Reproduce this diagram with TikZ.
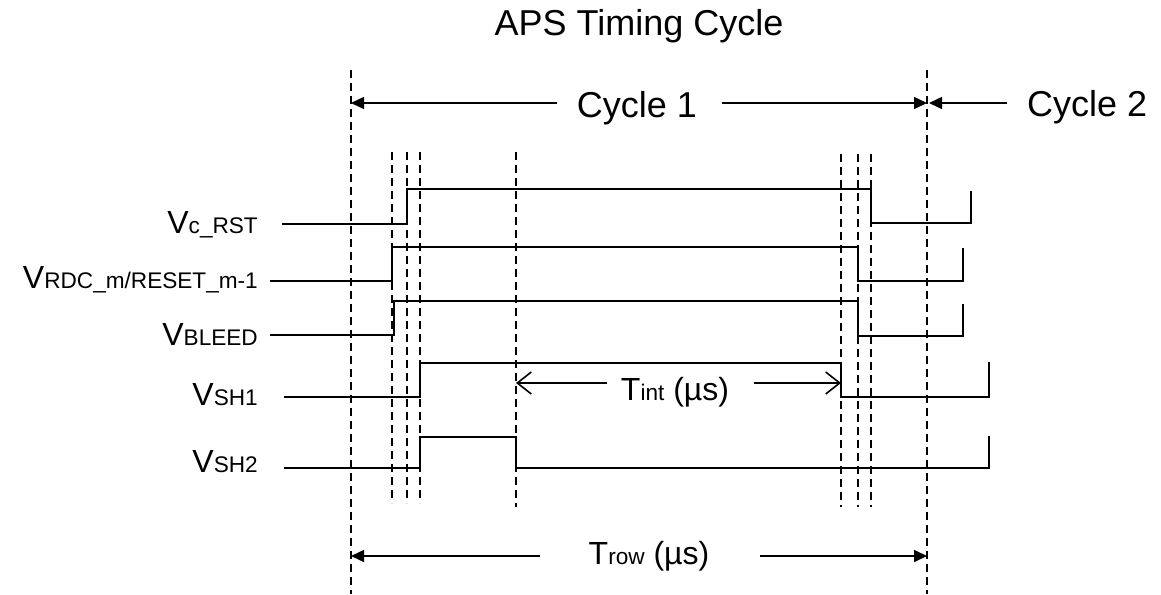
\documentclass[tikz,border=0pt]{standalone}
\usepackage{fontspec}
\setmainfont{Liberation Sans}
\usetikzlibrary{arrows.meta}
\newcommand\fsTitle{\fontsize{36}{40}\selectfont}
\newcommand\fsV{\fontsize{32}{36}\selectfont}
\newcommand\fsSub{\fontsize{22.6}{26}\selectfont}
\begin{document}
\begin{tikzpicture}[x=1pt,y=-1pt,
  sig/.style={line width=1.7pt, line join=miter, line cap=rect},
  guide/.style={line width=1.4pt, dash pattern=on 8pt off 5pt},
  span/.style={line width=1.6pt, -{Triangle[length=13pt,width=12pt]}},
  tint/.style={line width=1.6pt, -{Straight Barb[length=14pt,width=22pt,line width=1.6pt]}},
  lbl/.style={inner sep=0pt, anchor=base east},
  txt/.style={inner sep=0pt}]
\useasboundingbox (0,0) rectangle (1161,594);

% guide lines
\foreach \n/\x/\t/\b in {A/351/70/594, B/927/70/594,
    C/392/152/503, D/407/152/503, E/420/152/503, F/516/152/507,
    G/841/154/507, H/858/154/507, I/871/154/507} {
  \coordinate (g\n t) at (\x,\t);
  \coordinate (g\n b) at (\x,\b);
  \draw[guide] (g\n t) -- (g\n b);
}

% title
\node[txt, anchor=base] (title) at (639,36) {\fsTitle APS Timing Cycle};

% cycle arrows
\node[txt, anchor=base] (cyc1) at (637,117) {\fsTitle Cycle 1};
\node[txt, anchor=base west] (cyc2) at (1027,116) {\fsTitle Cycle 2};
\coordinate (c1l) at (557,103);
\coordinate (c1r) at (722,103);
\coordinate (c2s) at (1007,103);
\coordinate (gAc) at (351,103);
\coordinate (gBc) at (927,103);
\coordinate (gBc2) at (929,103);
\draw[span] (c1l) -- (gAc);
\draw[span] (c1r) -- (gBc);
\draw[span] (c2s) -- (gBc2);

% labels
\node[lbl] (lrst) at (258,233) {\fsV V\fsSub c\_RST};
\node[lbl] (lrdc) at (258,288) {\fsV V\fsSub RDC\_m/RESET\_m-1};
\node[lbl] (lbleed) at (258,345) {\fsV V\fsSub BLEED};
\node[lbl] (lsh1) at (258,405) {\fsV V\fsSub SH1};
\node[lbl] (lsh2) at (258,472) {\fsV V\fsSub SH2};

% waveforms
\draw[sig] (283,224) -- (407,224) -- (407,189) -- (871,189) -- (871,223) -- (971,223) -- (971,192);
\draw[sig] (271,281) -- (392,281) -- (392,247) -- (858,247) -- (858,281) -- (963,281) -- (963,249);
\draw[sig] (271,335) -- (394,335) -- (394,301) -- (858,301) -- (858,336) -- (963,336) -- (963,305);
\draw[sig] (285,397) -- (420,397) -- (420,363) -- (841,363) -- (841,397) -- (989,397) -- (989,363);
\draw[sig] (285,468) -- (420,468) -- (420,437) -- (516,437) -- (516,468) -- (989,468) -- (989,437);

% Tint
\node[txt, anchor=base] (tint) at (675,400) {\fsV T\fsSub int\fsV{} (µs)};
\coordinate (til) at (607,383);
\coordinate (tir) at (754,383);
\coordinate (tFl) at (516,383);
\coordinate (tGr) at (841,383);
\draw[tint] (til) -- (tFl);
\draw[tint] (tir) -- (tGr);

% Trow
\node[txt, anchor=base] (trow) at (649,564) {\fsV T\fsSub row\fsV{} (µs)};
\coordinate (trl) at (540,556);
\coordinate (trr) at (760,556);
\coordinate (gAr) at (351,556);
\coordinate (gBr) at (927,556);
\draw[span] (trl) -- (gAr);
\draw[span] (trr) -- (gBr);
\end{tikzpicture}
\end{document}
